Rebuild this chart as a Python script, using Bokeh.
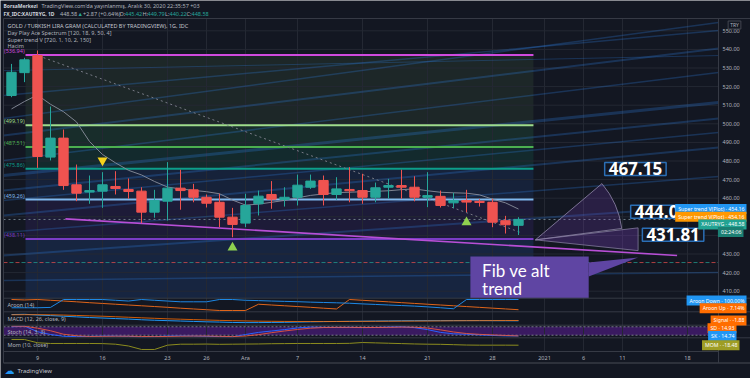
import math
from bokeh.plotting import figure
from bokeh.models import Range1d, BoxAnnotation, Label, ColumnDataSource
from bokeh.embed import file_html
from bokeh.resources import INLINE
from bokeh.core.properties import value

# ---------------- data ----------------
bar_index = list(range(-2, 38))   # 0 = 9 Nov 2020 (daily bars, weekdays)
opens  = [515.2, 527.5, 536.7, 482.1, 492.3, 467.2, 463.3, 463.8, 466.3, 464.7,
          463.8, 452.5, 458.4, 465.4, 464.5, 460.5, 457.8, 449.8, 446.6, 457.0,
          462.0, 459.3, 460.5, 465.9, 469.5, 462.0, 464.7, 464.1, 460.5, 465.9,
          466.8, 465.9, 460.5, 461.0, 457.5, 458.8, 458.3, 457.8, 447.9, 445.42]
highs  = [532.2, 535.5, 539.4, 509.3, 496.9, 478.1, 472.2, 474.0, 474.5, 470.6,
          465.9, 464.5, 479.4, 475.3, 467.7, 462.0, 462.4, 454.8, 462.4, 464.1,
          469.2, 465.9, 472.7, 472.7, 472.2, 471.3, 476.7, 473.1, 468.4, 470.4,
          475.3, 471.8, 474.0, 464.1, 462.9, 464.5, 459.5, 459.7, 450.5, 449.79]
lows   = [514.3, 522.4, 476.3, 480.3, 464.5, 458.4, 457.0, 454.8, 462.0, 459.7,
          446.6, 449.5, 448.0, 453.8, 457.8, 455.0, 444.4, 439.0, 444.4, 450.7,
          454.3, 455.5, 456.1, 465.0, 456.1, 459.1, 457.8, 457.0, 457.8, 459.7,
          459.7, 458.3, 455.2, 455.0, 454.6, 452.5, 455.5, 444.4, 441.0, 440.22]
closes = [527.7, 534.4, 482.4, 492.3, 466.8, 462.7, 464.1, 467.2, 465.2, 463.6,
          452.5, 458.8, 465.4, 464.1, 460.5, 457.3, 449.8, 445.9, 456.1, 461.1,
          459.5, 460.5, 467.0, 469.2, 462.0, 465.0, 464.0, 460.5, 465.6, 466.8,
          465.9, 460.5, 461.4, 456.1, 458.8, 457.9, 458.0, 447.1, 445.71, 448.58]
supertrend = [508, 512, 515.5, 510.5, 506.5, 501, 490.5, 483.5, 479, 475,
              472.5, 469, 466, 465, 464.2, 463.5, 462.4, 459, 456.3, 456.8,
              457.8, 458.8, 460.2, 461.5, 462.3, 463, 463.2, 463.5, 463.7, 464,
              464.6, 465, 464, 463.2, 462.9, 462.7, 461.8, 459.5, 457.5, 454.16]

aroon_up   = [100, 96, 100, 93, 86, 79, 71, 64, 57, 50, 43, 36, 29, 21, 14, 7, 0, 0, 0,
              57, 50, 43, 36, 29, 21, 14, 100, 92.86, 85.7, 78.6, 71.4, 64.3, 57.1,
              50, 42.9, 35.7, 28.6, 21.4, 14.3, 7.14]
aroon_down = [25, 25, 25, 28, 100, 100, 100, 100, 93, 86, 100, 93, 86, 79, 79, 79,
              100, 100, 93, 90, 86, 83, 80, 76, 73, 70, 66, 60, 55, 50, 45, 40, 33,
              25, 16, 100, 100, 100, 100, 100]
macd_line  = [21, 22, 19, 17, 14.5, 12, 9.5, 7.5, 5.5, 3.5, 1, -1, -2.5, -4, -5.5, -7,
              -8, -9.5, -10, -10, -9.5, -9, -8, -7, -6.3, -5.6, -5, -4.5, -4, -3.5,
              -3, -2.8, -2.6, -2.5, -2.4, -2.4, -2.3, -2.6, -2.9, -3.1]
macd_signal = [20, 20.5, 20.5, 20, 19, 17.5, 16, 14.5, 12.5, 10.5, 8.5, 6.5, 4.5, 3,
               1.5, 0, -1.5, -2.5, -3.5, -4.5, -5, -5.5, -5.8, -5.9, -5.9, -5.8, -5.6,
               -5.4, -5.1, -4.8, -4.5, -4.2, -3.8, -3.4, -3, -2.7, -2.5, -2.3, -2.1, -1.88]
stoch_k = [80, 85, 45, 25, 12, 10, 12, 14, 14, 12, 8, 10, 14, 15, 14, 12, 10, 8, 25,
           40, 50, 60, 72, 78, 76, 75, 76, 74, 75, 78, 80, 74, 60, 40, 30, 27, 22, 18,
           15, 14.74]
stoch_d = [85, 84, 70, 52, 27, 16, 11, 12, 13, 13, 11, 10, 11, 13, 14, 14, 12, 10, 14,
           24, 38, 50, 61, 70, 75, 76, 76, 75, 75, 76, 78, 77, 71, 58, 43, 32, 26, 22,
           18, 14.93]
momentum = [29, 29, 2, -4, -4, -4, -4, -5, -10, -25, -54, -54, -18, -10, -10, -9, -11,
            -10, -9, -8, -6, -5, -4, -4, -4, -4, -3, 4, 1, -2, -5, -8, -10, -11, -14,
            -17, -18, -18, -18, -18.48]

time_ticks  = [0, 5, 10, 13, 16, 20, 25, 30, 35, 39, 42, 45, 50]
time_labels = ["9", "16", "23", "26", "Ara", "7", "14", "21", "28", "2021", "6", "11", "18"]
price_ticks = [410, 420, 430, 440, 450, 460, 470, 480, 490, 500, 510, 520, 530, 540, 550]
price_labels = [f"{t:.2f}" for t in price_ticks]

fib_levels = [536.94, 499.19, 487.51, 475.86, 459.26, 438.11]
fib_labels = [f"({v:.2f})" for v in fib_levels]   # the part visible at the left edge
fib_colors = ["#d04ade", "#9fdc8c", "#4caf50", "#0d9e8a", "#7fb8ee", "#7a3cc4"]
zone_colors = ["#1d2728", "#182d2b", "#132a2d", "#16223a", "#1d1b38", "#172540"]
fib_left, fib_right = -0.92, 38.15

down_trend_x, down_trend_y = [0.46, 37.15], [535.6, 441.6]
low_trend_x, low_trend_y = [2.15, 49.2], [448.9, 429.2]
dash_level = 425.4

sell_x, sell_y = [5], [480.3]
buy_x, buy_y = [15, 33], [433.5, 447.0]

# "Day Play Ace Spectrum" rays: price at left edge and right edge of the chart
spectrum_left  = [502.8, 493.7, 480.3, 472.2, 464.1, 458.8, 450.7, 515.2, 441.6, 429.2, 415.8, 528.6]
spectrum_right = [554.5, 540.5, 527.6, 511.5, 502.8, 495.3, 487.3, 550.2, 471.7, 456.1, 420.1, 536.7]
spectrum_width = [1.5, 2, 1.5, 3, 2, 1.5, 2, 1.5, 1.5, 2, 1.5, 1]

fan_cx, fan_cy = 38.3, 437.6
fan_x = [43.3, 45.3, 46.2]
fan_y = [467.15, 444.06, 431.81]
fan_text = ["467.15", "444.06", "431.81"]

callout_box = dict(left=33.3, right=42.4, top=428.7, bottom=406.2)
callout_lines = ["Fib ve alt", "trend"]
callout_text_x = 34.2
callout_text_y = [421.1, 411.5]
callout_tip = dict(x=[42.4, 42.4, 46.2], y=[425.4, 417.9, 428.1])

# ---------------- layout helpers (pixel layout of the TradingView page) ----------------
W, H = 750, 378
BG = "#131722"
GRID = "#242833"
BORDER = "#363a45"
TXT = "#b2b5be"
BAR_PX, X0_PX = 13.0, 37.0
PRICE_PX, Y500_PX = 1.86, 123.3
FL, FR, FT, FB = 3, 718, 18, 351      # chart panel
MAIN_B = 297.7                        # bottom of price pane
PANE_SEP = [297.7, 311.3, 324.7, 337.3]
AXIS_B = 362.5

def px_x(px):
    return (px - X0_PX) / BAR_PX

def px_y(py):
    return 500 - (py - Y500_PX) / PRICE_PX

def pane_range(vlo, vhi, py_lo, py_hi):
    k = (vhi - vlo) / (py_lo - py_hi)
    return Range1d(vlo - (H - py_lo) * k, vhi + py_hi * k)

p = figure(width=W, height=H, output_backend="svg", toolbar_location=None, title=None,
           x_range=Range1d(px_x(0), px_x(W)), y_range=Range1d(px_y(H), px_y(0)),
           x_axis_type=None, y_axis_type=None,
           min_border_left=0, min_border_right=0, min_border_top=0, min_border_bottom=0,
           background_fill_color=BG, border_fill_color=BG, outline_line_color=None)
p.extra_y_ranges = {
    "aroon": pane_range(0, 100, 310, 299),
    "macd": pane_range(-20, 31.5, 324.7, 311.3),
    "stoch": pane_range(0, 100, 337.5, 323.5),
    "mom": pane_range(-65, 43.3, 350.3, 337.3),
}
XL, XR, XE = px_x(FL), px_x(FR), px_x(W)

# fib zones (under the grid)
zone_bounds = fib_levels + [px_y(MAIN_B)]
for i, col in enumerate(zone_colors):
    p.quad(left=[fib_left], right=[fib_right], top=[zone_bounds[i]], bottom=[zone_bounds[i + 1]],
           fill_color=col, line_color=None)

# grid from the tick lists
p.segment(x0=time_ticks, x1=time_ticks, y0=[px_y(FT)] * len(time_ticks),
          y1=[px_y(FB)] * len(time_ticks), line_color=GRID, line_width=1)
p.segment(x0=[XL] * len(price_ticks), x1=[XR] * len(price_ticks), y0=price_ticks,
          y1=price_ticks, line_color=GRID, line_width=1)

# spectrum rays
p.segment(x0=[XL] * len(spectrum_left), y0=spectrum_left, x1=[XR] * len(spectrum_left),
          y1=spectrum_right, line_color="#2f7fe0", line_alpha=0.28, line_width=spectrum_width)

# fib lines and labels
p.segment(x0=[fib_left] * 6, x1=[fib_right] * 6, y0=fib_levels, y1=fib_levels,
          line_color=fib_colors, line_width=2)
p.text(x=[fib_left] * 6, y=fib_levels, text=fib_labels,
       text_color=fib_colors, text_font=value("Noto Sans"), text_font_size="5.5px",
       text_align="right", text_baseline="bottom", x_offset=-1, y_offset=0)

# horizontal reference lines
p.segment(x0=[XL], x1=[XR], y0=[dash_level], y1=[dash_level], line_color="#ef5350",
          line_dash="4 8", line_alpha=0.7, line_width=1)
p.segment(x0=[XL], x1=[XR], y0=[dash_level], y1=[dash_level], line_color="#26a69a",
          line_dash="4 8", line_dash_offset=6, line_alpha=0.7, line_width=1)
p.segment(x0=[XL], x1=[XR], y0=[closes[-1]], y1=[closes[-1]], line_color="#6f7f88",
          line_dash="2 3", line_width=1)

# trend lines
p.line(down_trend_x, down_trend_y, line_color="#787b86", line_dash="2 3", line_width=1)
p.line(low_trend_x, low_trend_y, line_color="#b84fd6", line_width=1.6)
p.line(bar_index, supertrend, line_color="#8a8f9c", line_width=1, line_alpha=0.9)

# candles
up = [c >= o for o, c in zip(opens, closes)]
ccol = ["#26a69a" if u else "#ef5350" for u in up]
btop = [max(o, c) for o, c in zip(opens, closes)]
bbot = [min(o, c) for o, c in zip(opens, closes)]
bbot = [b if t - b > 0.6 else t - 0.6 for t, b in zip(btop, bbot)]
src = ColumnDataSource(dict(x=bar_index, h=highs, l=lows, t=btop, b=bbot, c=ccol))
p.segment(x0="x", x1="x", y0="h", y1="l", line_color="c", line_width=1, source=src)
p.vbar(x="x", width=0.72, top="t", bottom="b", fill_color="c", line_color="c", source=src)

# signals
p.scatter(sell_x, sell_y, marker="inverted_triangle", size=10, fill_color="#f7d21c", line_color=None)
p.scatter(buy_x, buy_y, marker="triangle", size=10, fill_color="#8fd14f", line_color=None)

# fan drawing
ang = [math.atan2((fy - fan_cy) * PRICE_PX, (fx - fan_cx) * BAR_PX) for fx, fy in zip(fan_x, fan_y)]
rad = math.hypot((fan_x[0] - fan_cx) * BAR_PX, (fan_y[0] - fan_cy) * PRICE_PX) + 2
p.wedge(x=[fan_cx], y=[fan_cy], radius=rad, radius_units="screen", start_angle=ang[1],
        end_angle=ang[0], fill_color="#7a3fc0", fill_alpha=0.22, line_color="#8e86a8",
        line_alpha=0.8, line_width=1)
p.patch([fan_cx, fan_x[2], fan_x[2]], [fan_cy, fan_y[1], fan_y[2]], fill_color="#7a3fc0",
        fill_alpha=0.3, line_color="#8e86a8", line_alpha=0.7, line_width=1)

# callout
p.quad(**{k: [v] for k, v in callout_box.items()}, fill_color="#5f45a3", line_color=None)
p.patch(callout_tip["x"], callout_tip["y"], fill_color="#5f45a3", line_color=None)
p.text(x=[callout_text_x] * 2, y=callout_text_y, text=callout_lines, text_color="white",
       text_font=value("Lato"), text_font_size="17px", text_baseline="middle")

# indicator panes
p.add_layout(BoxAnnotation(left=XL, right=XR, bottom=20, top=80, y_range_name="stoch",
                           fill_color="#6a1fb0", fill_alpha=0.45, line_color=None, level="underlay"))
p.segment(x0=[XL, XL], x1=[XR, XR], y0=[20, 80], y1=[20, 80], y_range_name="stoch",
          line_color="#787b86", line_dash="2 2", line_width=1)
p.line(bar_index, aroon_up, y_range_name="aroon", line_color="#e0651a", line_width=1)
p.line(bar_index, aroon_down, y_range_name="aroon", line_color="#1e88e5", line_width=1)
p.line(bar_index, macd_line, y_range_name="macd", line_color="#2196f3", line_width=1)
p.line(bar_index, macd_signal, y_range_name="macd", line_color="#ff6d00", line_width=1, line_alpha=0.8)
p.line(bar_index, stoch_k, y_range_name="stoch", line_color="#2962ff", line_width=1)
p.line(bar_index, stoch_d, y_range_name="stoch", line_color="#f05a3c", line_width=1, line_alpha=0.85)
p.line(bar_index, momentum, y_range_name="mom", line_color="#8c8c1e", line_width=1)

# panel borders and pane separators
hx0 = [XL, XL] + [XL] * len(PANE_SEP) + [XL, XL]
hx1 = [XE, XR] + [XE] * len(PANE_SEP) + [XE, XE]
hy = [FT, FB] + PANE_SEP + [AXIS_B, AXIS_B]
p.segment(x0=hx0, x1=hx1, y0=[px_y(v) for v in hy], y1=[px_y(v) for v in hy],
          line_color=BORDER, line_width=1)
p.segment(x0=[XL, XR], x1=[XL, XR], y0=[px_y(FT)] * 2, y1=[px_y(AXIS_B)] * 2,
          line_color=BORDER, line_width=1)

# axis labels from the tick lists
p.text(x=[px_x(722)] * len(price_ticks), y=price_ticks, text=price_labels,
       text_color=TXT, text_font=value("Noto Sans"), text_font_size="5.5px",
       text_align="left", text_baseline="middle")
p.text(x=time_ticks, y=[px_y(357)] * len(time_ticks), text=time_labels,
       text_color=TXT, text_font=value("Noto Sans"), text_font_size="5.5px",
       text_align="center", text_baseline="middle")

# ---------------- text ----------------
def txt(px, py, text, size="5.5px", color=TXT, bold=False, font="Noto Sans"):
    p.add_layout(Label(x=px_x(px), y=px_y(py), text=text, text_font=font,
                       text_font_size=size, text_color=color,
                       text_font_style="bold" if bold else "normal",
                       text_align="left", text_baseline="middle"))

txt(3, 5.5, "BorsaMerkezi", size="5px", bold=True, color="#d1d4dc")
txt(41, 5.5, "TradingView.com'da yayınlanmış, Aralık 30, 2020 22:35:57 +03", size="5.5px")
hdr = [(3, "FX_IDC:XAUTRYG, 1D", "#d1d4dc", True), (59.5, "448.58", TXT, False),
       (77, "▲", "#26a69a", False), (82.5, "+2.87 (+0.64%)", TXT, False),
       (119, "O:", TXT, False), (124.5, "445.42", "#26a69a", False),
       (142, "H:", TXT, False), (147, "449.79", "#26a69a", False),
       (164.5, "L:", TXT, False), (169, "440.22", "#26a69a", False),
       (186, "C:", TXT, False), (191, "448.58", "#26a69a", False)]
for x0, t, c, b in hdr:
    txt(x0, 13.5, t, size="5px" if b else "5.5px", color=c, bold=b)

txt(7, 25, "GOLD / TURKISH LIRA GRAM (CALCULATED BY TRADINGVIEW), 1G, IDC", color="#c3c6ce")
txt(7, 32.5, "Day Play Ace Spectrum [120, 18, 9, 50, 4]")
txt(7, 39.5, "Super trend V [720, 1, 10, 2, 150]")
txt(7, 45.5, "Hacim")
txt(7, 304, "Aroon (14)")
txt(7, 318, "MACD (12, 26, close, 9)")
txt(7, 331, "Stoch (14, 3, 3)")
txt(7, 344, "Mom (10, close)")

txt(4, 369.5, "☁", size="10px", color="#2196f3", font="DejaVu Sans")
txt(17, 370, "TradingView", size="6px", color="#c3c6ce")

p.add_layout(Label(x=px_x(734), y=px_y(24.5), text="TRY", text_font="Noto Sans",
                   text_font_size="5px", text_color=TXT, text_align="center",
                   text_baseline="middle", background_fill_color=BG,
                   border_line_color="#434651", padding=dict(left=2, right=2, top=1, bottom=1)))

# fan price labels
for fx, fy, t in zip(fan_x, fan_y, fan_text):
    p.add_layout(Label(x=fx, y=fy, x_offset=35, y_offset=16, text=t, text_font="Open Sans",
                       text_font_style="bold", text_font_size="17px", text_color="white",
                       text_align="center", text_baseline="middle",
                       background_fill_color=BG, border_line_color="#2b6fb6",
                       border_line_width=1.5, padding=dict(left=4, right=4, top=0, bottom=0)))

# price-axis tags
def tag(xr_px, yv, text, bg, yname="default", dy=0):
    p.add_layout(Label(x=px_x(xr_px - 2), y=yv, y_range_name=yname, y_offset=dy, text=text,
                       text_font="Noto Sans", text_font_size="5.2px", text_color="white",
                       text_align="right", text_baseline="middle", background_fill_color=bg,
                       padding=dict(left=3, right=2, top=1, bottom=1)))

tag(748, supertrend[-1], "Super trend V(Plot) · 454.16", "#2196f3")
tag(748, supertrend[-1], "Super trend V(Plot) · 454.16", "#ff9800", dy=-7.7)
tag(748, closes[-1], "XAUTRYG · 448.58", "#22a393", dy=-5)
tag(745, closes[-1], "02:24:06", "#1b7f73", dy=-12.5)
tag(748, aroon_down[-1], "Aroon Down · 100.00%", "#2196f3", "aroon", dy=-1)
tag(748, aroon_up[-1], "Aroon Up · 7.14%", "#ff6d00", "aroon", dy=1.5)
tag(748, macd_signal[-1], "Signal · -1.88", "#ff6d00", "macd")
tag(738, stoch_d[-1], "SD · 14.93", "#ff6d00", "stoch", dy=7.7)
tag(738, stoch_k[-1], "SK · 14.74", "#2196f3", "stoch")
tag(741, momentum[-1], "MOM · -18.48", "#9e9d24", "mom")

open("out.html", "w").write(file_html(p, INLINE))
